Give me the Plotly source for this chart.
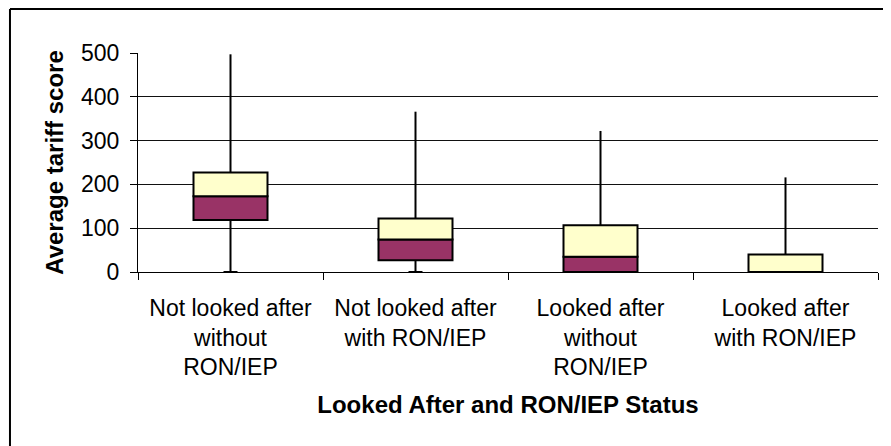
import plotly.graph_objects as go

categories = [
    "Not looked after<br>without<br>RON/IEP",
    "Not looked after<br>with RON/IEP",
    "Looked after<br>without<br>RON/IEP",
    "Looked after<br>with RON/IEP",
]
minimum = [0, 0, 0, 0]
q1 = [119, 27, 0, 0]
median = [173, 74, 35, 0]
q3 = [227, 122, 107, 40]
maximum = [497, 366, 322, 216]
y_ticks = [0, 100, 200, 300, 400, 500]

MAROON = "#993366"
YELLOW = "#FFFFCC"

fig = go.Figure()

# whiskers (min->Q1 and Q3->max)
wx, wy = [], []
for c, lo, a, b, hi in zip(categories, minimum, q1, q3, maximum):
    wx += [c, c, None, c, c, None]
    wy += [lo, a, None, b, hi, None]
fig.add_trace(go.Scatter(x=wx, y=wy, mode="lines",
                         line=dict(color="black", width=2),
                         hoverinfo="skip", showlegend=False))
fig.add_trace(go.Scatter(x=categories, y=minimum, mode="markers",
                         marker=dict(symbol="line-ew", size=10,
                                     line=dict(color="black", width=2)),
                         hoverinfo="skip", showlegend=False))

# lower box Q1 -> median
fig.add_trace(go.Bar(x=categories, y=[m - a for m, a in zip(median, q1)], base=q1,
                     width=0.4, marker=dict(color=MAROON, line=dict(color="black", width=2)),
                     showlegend=False))
# upper box median -> Q3
fig.add_trace(go.Bar(x=categories, y=[b - m for b, m in zip(q3, median)], base=median,
                     width=0.4, marker=dict(color=YELLOW, line=dict(color="black", width=2)),
                     showlegend=False))

# outer frame lines (left and top)
fig.add_shape(type="line", xref="paper", yref="paper",
              x0=-0.1730, x1=1.02, y0=1.2009, y1=1.2009,
              line=dict(color="black", width=2))
fig.add_shape(type="line", xref="paper", yref="paper",
              x0=-0.1730, x1=-0.1730, y0=1.2009, y1=-0.80,
              line=dict(color="black", width=2))

fig.update_layout(
    width=883, height=438,
    margin=dict(l=130, r=13, t=45, b=174),
    paper_bgcolor="white", plot_bgcolor="white",
    barmode="overlay",
    font=dict(family="Liberation Sans, Arial, sans-serif", color="black"),
    xaxis=dict(
        type="category",
        tickson="boundaries",
        ticks="outside", ticklen=7, tickcolor="black", tickwidth=1,
        showline=True, linecolor="black", linewidth=1,
        showgrid=False,
        tickfont=dict(size=23),
        ticklabelstandoff=15,
        title=dict(text="<b>Looked After and RON/IEP Status</b>",
                   font=dict(size=24), standoff=16),
    ),
    yaxis=dict(
        range=[0, 500],
        tickvals=y_ticks,
        ticks="outside", ticklen=7, tickcolor="black", tickwidth=1,
        showline=True, linecolor="black", linewidth=1,
        showgrid=True, gridcolor="#111111", gridwidth=1,
        zeroline=False,
        tickfont=dict(size=23),
        ticklabelstandoff=6,
        title=dict(text="<b>Average tariff score</b>", font=dict(size=24), standoff=10),
    ),
)

fig.write_html("out.html")
